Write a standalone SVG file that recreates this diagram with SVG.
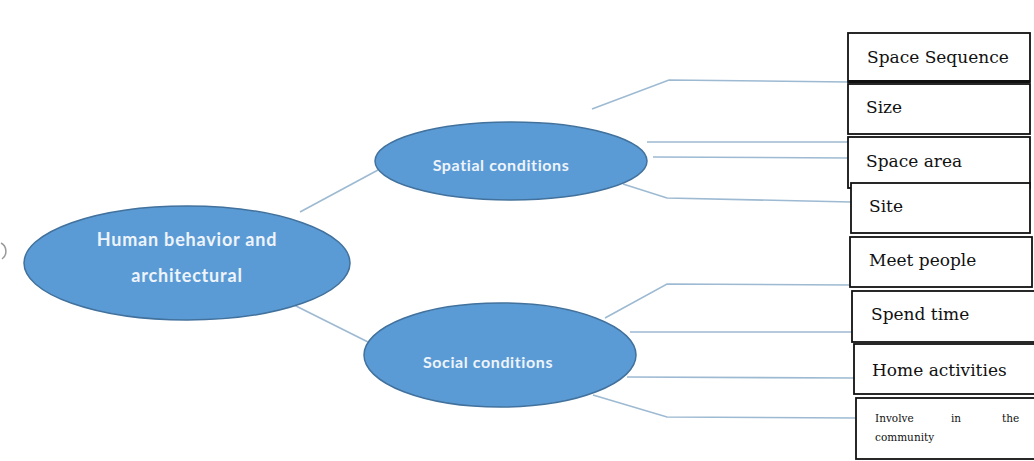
<svg xmlns="http://www.w3.org/2000/svg" width="1034" height="461" viewBox="0 0 1034 461">
<style>
.ell{fill:#5b9bd5;stroke:#41719c;stroke-width:1.5}
.et{fill:#eef4fb;font-family:Lato,"Open Sans",sans-serif;font-weight:bold;text-anchor:middle}
.box{fill:#fff;stroke:#111;stroke-width:1.8}
.bt{fill:#111;font-family:"DejaVu Serif","Liberation Serif",serif;font-size:17px}
.st{fill:#111;font-family:"DejaVu Serif","Liberation Serif",serif;font-size:10.5px}
.con{fill:none;stroke:#9dbad2;stroke-width:1.6}
</style>
<rect width="1034" height="461" fill="#fff"/>
<path d="M1,243 A8,9 0 0 1 2,259" fill="none" stroke="#999" stroke-width="1.5"/>
<g id="connectors">
<path class="con" d="M300,212 L378,170"/>
<path class="con" d="M288,302 L368,342"/>
<path class="con" d="M592,109 L669,80 L848,82"/>
<path class="con" d="M647,142 L848,142"/>
<path class="con" d="M653,157 L848,158"/>
<path class="con" d="M623,184 L667,198 L851,202"/>
<path class="con" d="M605,318 L667,284 L850,285"/>
<path class="con" d="M630,332 L852,332"/>
<path class="con" d="M627,377 L854,378"/>
<path class="con" d="M593,395 L667,417 L856,418"/>
</g>
<g id="main">
<ellipse class="ell" cx="187" cy="263" rx="163" ry="57"/>
<text class="et" x="187" y="246" font-size="18" letter-spacing="0.8">Human behavior and</text>
<text class="et" x="187" y="282" font-size="18" letter-spacing="0.8">architectural</text>
</g>
<g id="spatial">
<ellipse class="ell" cx="511" cy="161" rx="136" ry="39"/>
<text class="et" x="501" y="171" font-size="16" letter-spacing="0.6">Spatial conditions</text>
</g>
<g id="social">
<ellipse class="ell" cx="500" cy="355" rx="136" ry="52"/>
<text class="et" x="488" y="368" font-size="16" letter-spacing="0.6">Social conditions</text>
</g>
<g id="b1"><rect class="box" x="848" y="33" width="182" height="49"/><rect x="848" y="80" width="182" height="3" fill="#111"/><text class="bt" x="867" y="63">Space Sequence</text></g>
<g id="b2"><rect class="box" x="848" y="84" width="182" height="50"/><text class="bt" x="866" y="113">Size</text></g>
<g id="b3"><rect class="box" x="848" y="137" width="182" height="51"/><text class="bt" x="866" y="167">Space area</text></g>
<g id="b4"><rect class="box" x="851" y="183" width="179" height="50"/><text class="bt" x="869" y="212">Site</text></g>
<g id="b5"><rect class="box" x="850" y="237" width="182" height="50"/><text class="bt" x="869" y="266">Meet people</text></g>
<g id="b6"><rect class="box" x="852" y="291" width="183" height="51"/><text class="bt" x="871" y="320">Spend time</text></g>
<g id="b7"><rect class="box" x="854" y="344" width="183" height="50"/><text class="bt" x="872" y="376" font-size="18.5">Home activities</text></g>
<g id="b8"><rect class="box" x="856" y="398" width="181" height="61"/>
<text class="st" y="422"><tspan x="875">Involve</tspan><tspan x="951">in</tspan><tspan x="1002">the</tspan></text>
<text class="st" x="875" y="441">community</text></g>
</svg>
